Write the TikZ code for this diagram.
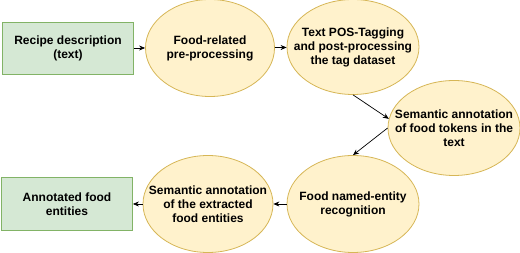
\documentclass[tikz,border=0pt]{standalone}
\usepackage{fontspec}
\setmainfont{Liberation Sans}
\usetikzlibrary{arrows.meta,shapes.geometric}
\definecolor{gfill}{HTML}{D5E8D4}
\definecolor{gdraw}{HTML}{82B366}
\definecolor{yfill}{HTML}{FFF2CC}
\definecolor{ydraw}{HTML}{D6B656}
\tikzset{
  box/.style={draw=gdraw,fill=gfill,line width=0.8pt,rectangle,inner sep=0pt},
  oval/.style={draw=ydraw,fill=yfill,line width=0.8pt,ellipse,inner sep=0pt},
  lbl/.style={align=center,inner sep=0pt,font=\fontsize{12}{14}\selectfont\bfseries},
  conn/.style={draw=black,line width=0.7pt,-{Stealth[length=6pt,width=5pt]}}
}
\begin{document}
\begin{tikzpicture}[x=1pt,y=-1pt]
\useasboundingbox (0,0) rectangle (520,253);
\node[box,minimum width=131pt,minimum height=52pt] (r1) at (68,48) {};
\node[oval,minimum width=129pt,minimum height=97pt] (e1) at (210,48) {};
\node[oval,minimum width=132pt,minimum height=95pt] (e2) at (353,47) {};
\node[oval,minimum width=132pt,minimum height=95pt] (e3) at (454,128) {};
\node[oval,minimum width=132pt,minimum height=97pt] (e4) at (353,204) {};
\node[oval,minimum width=130pt,minimum height=97pt] (e5) at (208,204) {};
\node[box,minimum width=131pt,minimum height=53pt] (r2) at (67,204) {};

\node[lbl] (t1) at (r1.center) {Recipe description\\(text)};
\node[lbl] (t2) at (e1.center) {Food-related\\pre-processing};
\node[lbl] (t3) at (e2.center) {Text POS-Tagging\\and post-processing\\the tag dataset};
\node[lbl] (t4) at (e3.center) {Semantic annotation\\of food tokens in the\\text};
\node[lbl] (t5) at (e4.center) {Food named-entity\\recognition};
\node[lbl] (t6) at (e5.center) {Semantic annotation\\of the extracted\\food entities};
\node[lbl] (t7) at (r2.center) {Annotated food\\entities};

\draw[conn] (r1) -- (e1);
\draw[conn] (e1) -- (e2);
\draw[conn] (e2.south) -- (e3.172);
\draw[conn] (e3.west) -- (e4.north);
\draw[conn] (e4) -- (e5);
\draw[conn] (e5) -- (r2);
\end{tikzpicture}
\end{document}
